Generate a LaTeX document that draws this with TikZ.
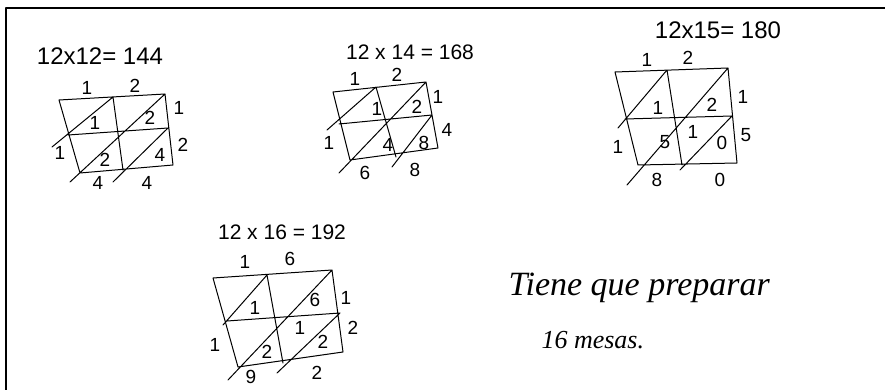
\documentclass[tikz,border=0pt]{standalone}
\usepackage{fontspec}
\setmainfont{Liberation Sans}
\newfontfamily\handfont{Liberation Serif}
\begin{document}
\begin{tikzpicture}[x=1pt, y=-1pt, line join=round, line cap=round, font=\fontsize{19}{21}\selectfont]
	\tikzset{lat/.style={line width=1pt}, eq/.style={font=\fontsize{21}{24}\selectfont}, eqwide/.style={font=\fontsize{24}{26}\selectfont}}
	\useasboundingbox (0,0) rectangle (885,390);
	\draw[line width=2.5pt] (6,391)--(6,8)--(886,8);
	% 12 x 12
	\node[eqwide] (eqa) at (100,56) {12x12= 144};
	\draw[lat] (59,100)--(165,94)--(173,165)--(80,173)--cycle
		(113,97)--(123,170) (68,135)--(168,128)
		(52,147)--(113,97) (70,182)--(165,94) (113,182)--(168,128);
	\foreach \p/\n in {(87,88)/1, (135,86)/2, (179,108)/1, (183,145)/2, (60,153)/1, (98,183)/4, (147,183)/4, (95,123)/1, (150,118)/2, (105,160)/2, (160,155)/4} \node at \p {\n};
	% 12 x 14
	\node[eq] (eqb) at (410,52) {12 x 14 = 168};
	\draw[lat] (333,92)--(426,82)--(438,148)--(350,160)--cycle
		(376,87)--(396,157) (339,124)--(432,115)
		(327,130)--(376,87) (339,173)--(426,82) (392,167)--(432,115);
	\foreach \p/\n in {(355,79)/1, (397,75)/2, (438,97)/1, (447,130)/4, (329,143)/1, (365,173)/6, (415,170)/8, (377,109)/1, (417,107)/2, (388,145)/4, (424,143)/8} \node at \p {\n};
	% 12 x 15
	\node[eqwide] (eqc) at (718,30) {12x15= 180};
	\draw[lat] (615,72)--(728,68)--(737,163)--(638,165)--cycle
		(667,70)--(682,165) (625,119)--(732,116)
		(618,128)--(667,70) (627,185)--(728,68) (680,170)--(732,116);
	\foreach \p/\n in {(647,60)/1, (688,58)/2, (743,97)/1, (746,135)/5, (618,147)/1, (657,180)/8, (720,180)/0, (658,108)/1, (712,105)/2, (665,142)/5, (693,132)/1, (722,143)/0} \node at \p {\n};
	% 12 x 16
	\node[eq] (eqd) at (282,232) {12 x 16 = 192};
	\draw[lat] (213,278)--(332,270)--(343,352)--(238,367)--cycle
		(267,275)--(283,363) (227,321)--(340,313)
		(223,325)--(267,275) (228,380)--(332,270) (277,373)--(340,313);
	\foreach \p/\n in {(245,262)/1, (290,259)/6, (346,298)/1, (353,328)/2, (215,345)/1, (251,377)/9, (317,373)/2, (255,308)/1, (315,300)/6, (267,352)/2, (300,328)/1, (323,342)/2} \node at \p {\n};
	% answer
	\node[anchor=west, font=\handfont\itshape\fontsize{34}{36}\selectfont] (ans) at (505,288) {Tiene que preparar};
	\node[anchor=west, font=\handfont\itshape\fontsize{26}{28}\selectfont] (mesas) at (538,340) {16 mesas.};
\end{tikzpicture}
\end{document}
